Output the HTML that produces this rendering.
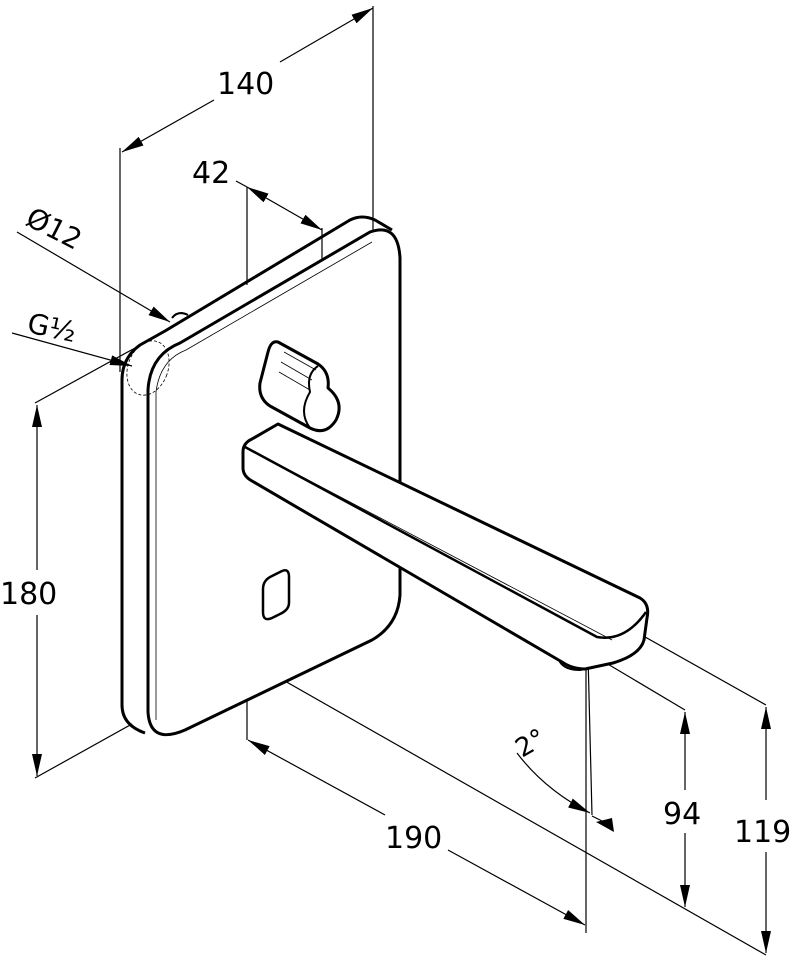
<!DOCTYPE html>
<html><head><style>
html,body{margin:0;padding:0;background:#fff}
svg{display:block}
text{font-family:"DejaVu Sans","Liberation Sans",sans-serif;fill:#000}
</style></head><body>
<svg width="804" height="971" viewBox="0 0 804 971" xmlns="http://www.w3.org/2000/svg">
<defs>
<marker id="a" viewBox="0 0 22 10" refX="22" refY="5" markerWidth="22" markerHeight="10" markerUnits="userSpaceOnUse" orient="auto-start-reverse">
<path d="M0,0 L22,5 L0,10 z" fill="#000"/></marker>
</defs>
<g fill="none" stroke="#000" stroke-width="1.2">
<!-- 140 -->
<line x1="120" y1="148" x2="120" y2="372"/>
<line x1="373" y1="6" x2="373" y2="232"/>
<line x1="122" y1="152" x2="214" y2="100" marker-start="url(#a)"/>
<line x1="280" y1="62" x2="373" y2="8" marker-end="url(#a)"/>
<!-- 42 -->
<line x1="247" y1="187" x2="247" y2="285"/>
<line x1="322" y1="228" x2="322" y2="410"/>
<line x1="236" y1="181" x2="247" y2="187"/>
<line x1="247" y1="187" x2="322" y2="230" marker-start="url(#a)" marker-end="url(#a)"/>
<!-- leaders -->
<line x1="17" y1="232" x2="170" y2="322" marker-end="url(#a)"/>
<line x1="12" y1="333" x2="132" y2="366" marker-end="url(#a)"/>
<!-- 180 -->
<line x1="35" y1="403" x2="135" y2="348"/>
<line x1="35" y1="778" x2="132" y2="724"/>
<line x1="37" y1="405" x2="37" y2="570" marker-start="url(#a)"/>
<line x1="37" y1="615" x2="37" y2="776" marker-end="url(#a)"/>
<!-- 190 -->
<line x1="247" y1="658" x2="247" y2="740"/>
<line x1="248" y1="740" x2="385" y2="815" marker-start="url(#a)"/>
<line x1="448" y1="850" x2="585" y2="925" marker-end="url(#a)"/>
<line x1="586" y1="655" x2="586" y2="933"/>
<line x1="588" y1="655" x2="592" y2="815"/>
<!-- 119 / 94 -->
<line x1="248" y1="660" x2="766" y2="955"/>
<line x1="622" y1="624" x2="766" y2="705"/>
<line x1="606" y1="663" x2="685" y2="710"/>
<line x1="766" y1="707" x2="766" y2="800" marker-start="url(#a)"/>
<line x1="766" y1="852" x2="766" y2="953" marker-end="url(#a)"/>
<line x1="685" y1="712" x2="685" y2="790" marker-start="url(#a)"/>
<line x1="685" y1="833" x2="685" y2="907" marker-end="url(#a)"/>
<!-- 2 deg -->
<path d="M517,753 Q545,790 590,813" marker-end="url(#a)"/>
<path d="M592,816 L612,826"/>
</g>
<polygon points="612,818 614,832 596,822" fill="#000"/>

<!-- plate -->
<g fill="none" stroke="#000" stroke-width="3" stroke-linejoin="round">
<path d="M122,380 Q122,358 140,345 L165,331 L350,220 Q362,214 375,220 L392,230"/>
<path d="M122,380 L122,705 Q122,725 145,733"/>
<path d="M148,390 Q150,355 180,343 L370,232 Q398,222 400,258 L400,595 Q398,625 372,640 L185,730 Q150,745 148,712 Z" fill="#fff"/>
<path d="M172,318 Q178,310 188,315" stroke-width="2"/>
<path d="M263,589 Q263,580 272,576 L282,571 Q289,568 289,577 L289,603 Q289,609 282,613 L272,618 Q263,622 263,612 Z" stroke-width="2.5"/>
</g>
<g fill="none" stroke="#000" stroke-width="0.8">
<path d="M156,392 Q160,360 186,350 L372,242"/>
<line x1="156" y1="392" x2="156" y2="720"/>
<ellipse cx="148" cy="368" rx="20" ry="28" stroke-dasharray="3,2" transform="rotate(20 148 368)"/>
</g>
<!-- spout -->
<g fill="none" stroke="#000" stroke-width="3" stroke-linejoin="round">
<path d="M560,652 L560,662 Q565,670 580,670 L590,668 L588,655 Z" fill="#fff" stroke-width="2"/>
<path d="M243,452 Q243,443 252,439 L278,424 L640,598 Q650,604 647,618 L644,640 Q640,655 613,663 L585,669 Q572,669 562,662 L252,481 Q243,476 243,468 Z" fill="#fff"/>
<path d="M245,447 L597,637 Q625,642 646,612" stroke-width="2.5"/>
</g>
<g fill="none" stroke="#000" stroke-width="0.8">
<path d="M255,452 L612,640"/>
</g>
<!-- knob -->
<g fill="none" stroke="#000" stroke-width="3" stroke-linejoin="round">
<path d="M278,342 L318,364 Q330,372 328,388 Q345,402 336,420 Q326,436 310,428 L270,406 Q258,398 260,383 L268,352 Q271,340 278,342 Z" fill="#fff"/>
<path d="M318,366 Q306,374 310,392 Q298,412 310,428" stroke-width="2"/>
</g>
<g fill="none" stroke="#000" stroke-width="0.8">
<line x1="284" y1="352" x2="316" y2="370"/>
<line x1="281" y1="362" x2="312" y2="380"/>
<line x1="279" y1="372" x2="310" y2="390"/>
</g>

<!-- labels -->
<text x="217" y="94" font-size="30">140</text>
<text x="192" y="183" font-size="30">42</text>
<text x="0" y="604" font-size="30">180</text>
<text x="385" y="848" font-size="30">190</text>
<text x="663" y="824" font-size="30">94</text>
<text x="734" y="842" font-size="30">119</text>
<text x="24" y="224" font-size="28" transform="rotate(27 24 224)">Ø12</text>
<text x="26" y="332" font-size="28" transform="rotate(12 26 332)">G½</text>
<text x="522" y="758" font-size="26" transform="rotate(-30 522 758)">2°</text>
</svg>
</body></html>
